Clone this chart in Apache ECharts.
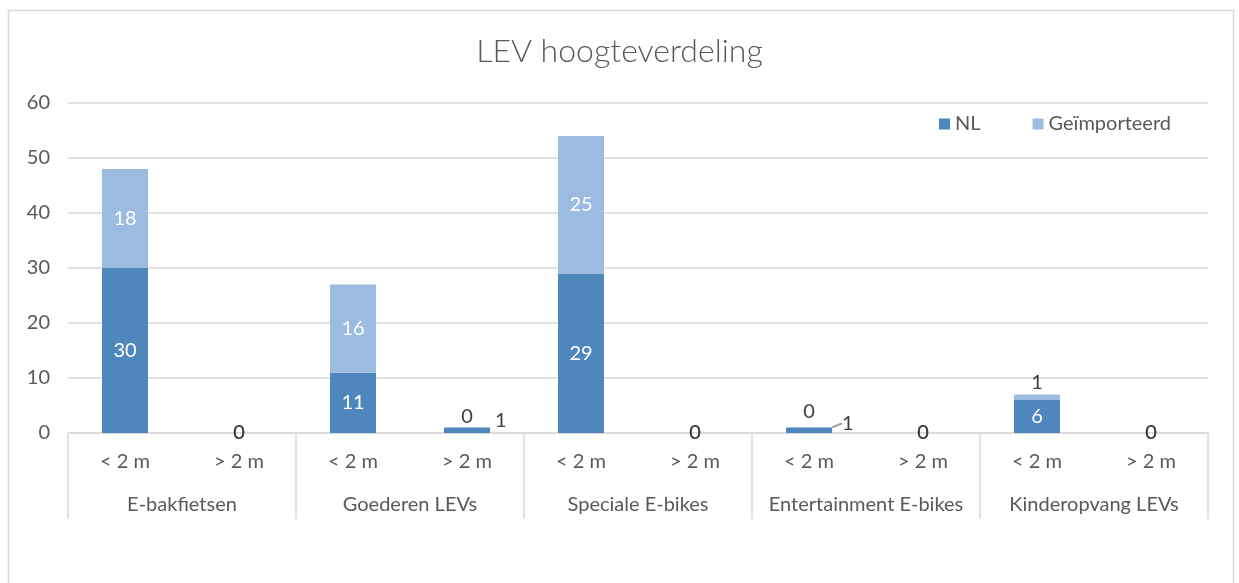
<!DOCTYPE html>
<html>
<head>
<meta charset="utf-8">
<script src="https://cdn.jsdelivr.net/npm/echarts@6/dist/echarts.min.js"></script>
<style>
html,body{margin:0;padding:0;background:#fff;}
#chart{width:1239px;height:583px;}
</style>
</head>
<body>
<div id="chart"></div>
<script>
// ---- data ----
const groups = ['E-bakfietsen', 'Goederen LEVs', 'Speciale E-bikes', 'Entertainment E-bikes', 'Kinderopvang LEVs'];
const subCats = ['< 2 m', '> 2 m', '< 2 m', '> 2 m', '< 2 m', '> 2 m', '< 2 m', '> 2 m', '< 2 m', '> 2 m'];
const nlValues = [30, 0, 11, 1, 29, 0, 1, 0, 6, 0];
const importValues = [18, 0, 16, 0, 25, 0, 0, 0, 1, 0];
const yTicks = [0, 10, 20, 30, 40, 50, 60];

const FONT = 'Lato, "Open Sans", sans-serif';
const GREY = '#595959';
const DARK = '#404040';
const NL_COLOR = '#4f87bd';
const IMP_COLOR = '#9bbbe0';
const FS = 20;

function buildSeriesData(values, isTop) {
  return values.map((v) => {
    const item = { value: v };
    if (v <= 1) {
      item.label = { color: DARK, position: isTop ? 'top' : 'inside', distance: 1 };
    }
    return item;
  });
}

const nlData = buildSeriesData(nlValues, false);
const impData = buildSeriesData(importValues, true);
// NL value of 1 labelled right of the thin bar (moved in labelLayout)
nlData[3].label = { color: DARK, position: 'right', distance: 5 };
nlData[6].label = { color: DARK, position: 'right', distance: 5 };
nlData[6].labelLine = { show: true, lineStyle: { color: '#a6a6a6', width: 2 } };
// All-zero categories: labels centered on the axis
[1, 5, 7, 9].forEach(i => {
  nlData[i].label = { color: DARK, position: 'inside' };
  impData[i].label = { color: DARK, position: 'inside' };
});
impData[6].label = { color: DARK, position: 'top', distance: 6 };
impData[8].label = { color: DARK, position: 'top', distance: 2 };

const chart = echarts.init(document.getElementById('chart'), null, { renderer: 'canvas' });

chart.setOption({
  backgroundColor: '#fff',
  animation: false,
  textStyle: { fontFamily: FONT },
  title: {
    text: 'LEV hoogteverdeling',
    left: 'center',
    top: 31,
    textStyle: { fontFamily: FONT, fontSize: 32, fontWeight: 300, color: GREY }
  },
  legend: {
    data: ['NL', 'Geïmporteerd'],
    right: 63,
    top: 109,
    itemWidth: 11,
    itemHeight: 11,
    itemGap: 52,
    icon: 'rect',
    textStyle: { fontFamily: FONT, fontSize: FS, color: GREY }
  },
  grid: { left: 68, right: 31, top: 103, bottom: 150, containLabel: false },
  graphic: [{
    type: 'rect',
    shape: { x: 8.5, y: 10.5, width: 1225, height: 600 },
    style: { fill: 'none', stroke: '#d9d9d9', lineWidth: 1.5 },
    silent: true,
    z: -1
  }],
  xAxis: [
    {
      type: 'category',
      data: subCats,
      position: 'bottom',
      axisLine: { show: true, lineStyle: { color: '#d9d9d9', width: 1.5 } },
      axisTick: { show: false },
      axisLabel: { fontFamily: FONT, fontSize: FS, color: GREY, margin: 19, interval: 0 }
    },
    {
      type: 'category',
      data: groups,
      position: 'bottom',
      axisLine: { show: false },
      axisTick: { show: true, length: 86, inside: false, interval: 0, lineStyle: { color: '#d9d9d9', width: 1.5 } },
      axisLabel: { fontFamily: FONT, fontSize: FS, color: GREY, margin: 62, interval: 0 },
      splitLine: { show: false }
    }
  ],
  yAxis: {
    type: 'value',
    min: yTicks[0],
    max: yTicks[yTicks.length - 1],
    interval: 10,
    axisLine: { show: false },
    axisTick: { show: false },
    axisLabel: { fontFamily: FONT, fontSize: FS, color: GREY, margin: 18 },
    splitLine: { lineStyle: { color: '#d9d9d9', width: 1.5 } }
  },
  series: [
    {
      name: 'NL',
      type: 'bar',
      stack: 'total',
      xAxisIndex: 0,
      barWidth: 46,
      itemStyle: { color: NL_COLOR },
      label: { show: true, position: 'inside', color: '#fff', fontFamily: FONT, fontSize: FS },
      labelLine: { show: false },
      labelLayout: function (params) {
        if (params.dataIndex === 3) {
          return { dx: 0, dy: -10 };
        }
        if (params.dataIndex === 6) {
          return { dx: 5, dy: -7 };
        }
      },
      data: nlData
    },
    {
      name: 'Geïmporteerd',
      type: 'bar',
      stack: 'total',
      xAxisIndex: 0,
      barWidth: 46,
      itemStyle: { color: IMP_COLOR },
      label: { show: true, position: 'inside', color: '#fff', fontFamily: FONT, fontSize: FS },
      data: impData
    }
  ]
});
</script>
</body>
</html>
